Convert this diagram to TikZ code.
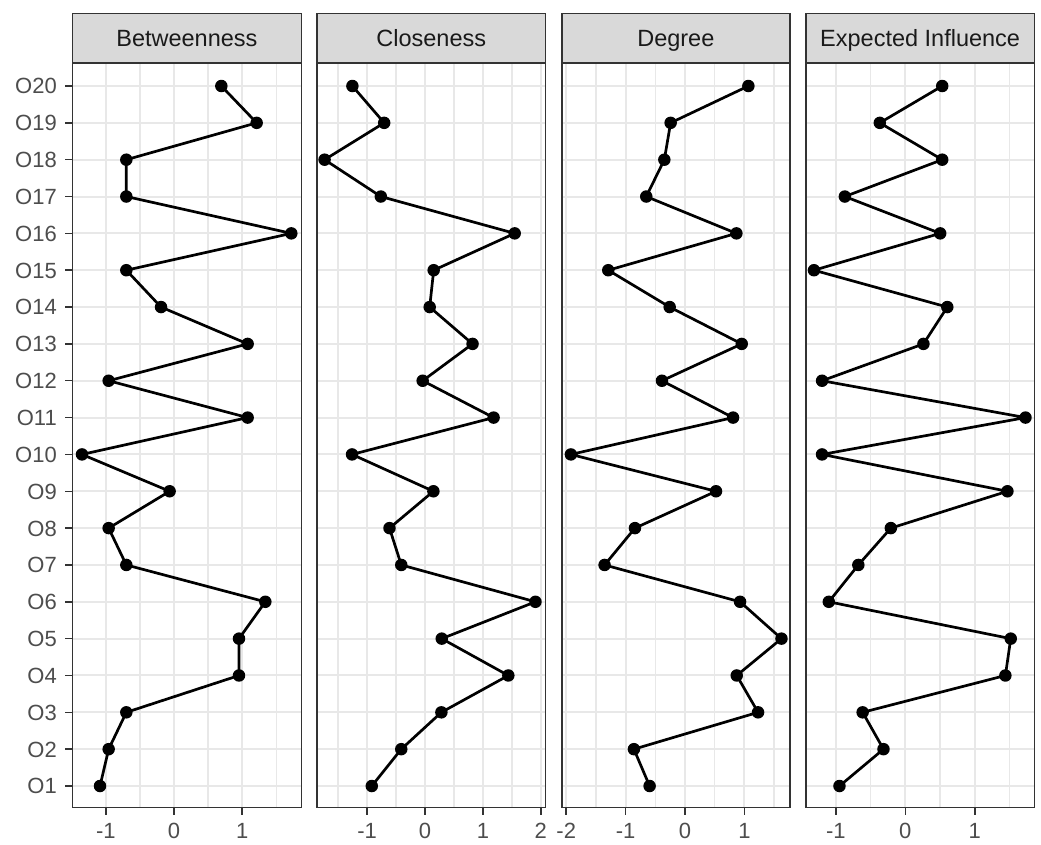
\documentclass[tikz,border=0pt]{standalone}
\usepackage{fontspec}
\setmainfont{Liberation Sans}
\definecolor{gridc}{HTML}{E8E8E8}
\definecolor{borderc}{HTML}{333333}
\definecolor{stripc}{HTML}{D9D9D9}
\definecolor{axtext}{HTML}{4D4D4D}
\definecolor{striptext}{HTML}{1A1A1A}
\tikzset{
  majorgrid/.style={draw=gridc, line width=2pt},
  minorgrid/.style={draw=gridc, line width=1.4pt},
  panelframe/.style={draw=borderc, line width=1.6pt},
  stripbox/.style={draw=borderc, fill=stripc, line width=1.6pt},
  striplabel/.style={anchor=base, inner sep=0pt, text=striptext, font=\fontsize{23.5}{26}\selectfont},
  ticklab/.style={anchor=base, inner sep=0pt, text=axtext, font=\fontsize{22}{24}\selectfont},
  ylab/.style={anchor=base east, inner sep=0pt, text=axtext, font=\fontsize{22}{24}\selectfont},
  tickmark/.style={draw=borderc, line width=1.5pt},
  dot/.style={circle, fill=black, inner sep=0pt, minimum size=12.5pt},
  dataline/.style={draw=black, line width=2.7pt, line join=round},
}
\begin{document}
\begin{tikzpicture}[x=1pt, y=-1pt]
\useasboundingbox (0,0) rectangle (1041,844);
\fill[white] (0,0) rectangle (1041,844);
% ---------- y axis labels ----------
\foreach \i in {1,...,20}{
  \node[ylab] (ylab\i) at (57,{786-(\i-1)*36.842+7.9}) {O\i};
  \draw[tickmark] (65,{786-(\i-1)*36.842}) -- (72.3,{786-(\i-1)*36.842});
}
% ---------- panel generic: horizontal grid ----------
\foreach \l/\r in {72.3/301.5, 317/545.5, 561.7/790, 806/1034.3}{
  \foreach \i in {1,...,20}{
    \draw[majorgrid] (\l,{786-(\i-1)*36.842}) -- (\r,{786-(\i-1)*36.842});
  }
}
% ================= Panel 1: Betweenness =================
\begin{scope}[shift={(174,0)}, x=68.2pt]
  \foreach \v in {-0.5,0.5,1.5} \draw[minorgrid] (\v,62.7) -- (\v,807.3);
  \foreach \v in {-1,0,1}{
    \draw[majorgrid] (\v,62.7) -- (\v,807.3);
    \draw[tickmark] (\v,807.3) -- (\v,814.5);
    \node[ticklab] (bt\v) at (\v,838.5) {\v};
  }
  \foreach \v [count=\i] in {-1.085,-0.958,-0.699,0.953,0.953,1.339,-0.699,-0.958,-0.064,-1.349,1.080,-0.958,1.080,-0.190,-0.699,1.720,-0.699,-0.699,1.212,0.694}{
    \node[dot] (b\i) at (\v,{786-(\i-1)*36.842}) {};
  }
  \draw[dataline] (b1.center) \foreach \i in {2,...,20}{ -- (b\i.center)};
\end{scope}
% ================= Panel 2: Closeness =================
\begin{scope}[shift={(425,0)}, x=57.9pt]
  \foreach \v in {-1.5,-0.5,0.5,1.5} \draw[minorgrid] (\v,62.7) -- (\v,807.3);
  \foreach \v in {-1,0,1,2}{
    \draw[majorgrid] (\v,62.7) -- (\v,807.3);
    \draw[tickmark] (\v,807.3) -- (\v,814.5);
    \node[ticklab] (ct\v) at (\v,838.5) {\v};
  }
  \foreach \v [count=\i] in {-0.919,-0.410,0.283,1.439,0.289,1.908,-0.410,-0.613,0.145,-1.260,1.185,-0.040,0.821,0.081,0.150,1.549,-0.763,-1.734,-0.705,-1.254}{
    \node[dot] (c\i) at (\v,{786-(\i-1)*36.842}) {};
  }
  \draw[dataline] (c1.center) \foreach \i in {2,...,20}{ -- (c\i.center)};
\end{scope}
% ================= Panel 3: Degree =================
\begin{scope}[shift={(685,0)}, x=59.4pt]
  \foreach \v in {-1.5,-0.5,0.5,1.5} \draw[minorgrid] (\v,62.7) -- (\v,807.3);
  \foreach \v in {-2,-1,0,1}{
    \draw[majorgrid] (\v,62.7) -- (\v,807.3);
    \draw[tickmark] (\v,807.3) -- (\v,814.5);
    \node[ticklab] (dt\v) at (\v,838.5) {\v};
  }
  \foreach \v [count=\i] in {-0.596,-0.860,1.230,0.871,1.624,0.927,-1.354,-0.843,0.522,-1.921,0.809,-0.388,0.955,-0.258,-1.292,0.865,-0.652,-0.348,-0.242,1.067}{
    \node[dot] (d\i) at (\v,{786-(\i-1)*36.842}) {};
  }
  \draw[dataline] (d1.center) \foreach \i in {2,...,20}{ -- (d\i.center)};
\end{scope}
% ================= Panel 4: Expected Influence =================
\begin{scope}[shift={(905.3,0)}, x=69.5pt]
  \foreach \v in {-0.5,0.5,1.5} \draw[minorgrid] (\v,62.7) -- (\v,807.3);
  \foreach \v in {-1,0,1}{
    \draw[majorgrid] (\v,62.7) -- (\v,807.3);
    \draw[tickmark] (\v,807.3) -- (\v,814.5);
    \node[ticklab] (et\v) at (\v,838.5) {\v};
  }
  \foreach \v [count=\i] in {-0.947,-0.314,-0.614,1.440,1.517,-1.101,-0.676,-0.208,1.469,-1.198,1.729,-1.198,0.261,0.604,-1.314,0.502,-0.870,0.531,-0.367,0.531}{
    \node[dot] (e\i) at (\v,{786-(\i-1)*36.842}) {};
  }
  \draw[dataline] (e1.center) \foreach \i in {2,...,20}{ -- (e\i.center)};
\end{scope}
% ---------- frames and strips ----------
\foreach \l/\r/\t in {72.3/301.5/Betweenness, 317/545.5/Closeness, 561.7/790/Degree, 806/1034.3/Expected Influence}{
  \draw[panelframe] (\l,62.7) rectangle (\r,807.3);
  \draw[stripbox] (\l,13.3) rectangle (\r,62.7);
  \node[striplabel] (strip\l) at ({(\l+\r)/2},46.6) {\t};
}
\end{tikzpicture}
\end{document}
